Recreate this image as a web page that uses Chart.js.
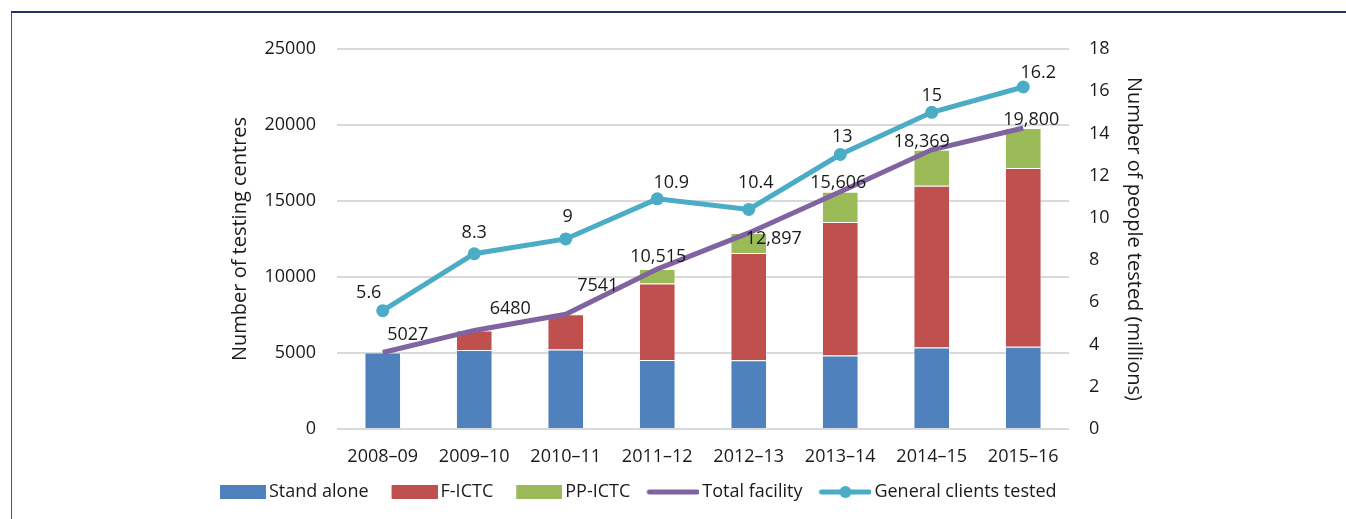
<!DOCTYPE html>
<html>
<head>
<meta charset="utf-8">
<script src="https://cdn.jsdelivr.net/npm/chart.js@4.4.1/dist/chart.umd.min.js"></script>
<style>
    html, body { margin: 0; padding: 0; background: #fff; }
    #wrap { position: relative; width: 1346px; height: 519px; overflow: hidden; }
    #frame { position: absolute; left: 11px; top: 11px; width: 1400px; height: 600px;
             border-left: 1px solid #3d5478; border-top: 2px solid #1f3461; }
    canvas { position: absolute; left: 0; top: 0; }
</style>
</head>
<body>
<div id="wrap">
    <div id="frame"></div>
    <canvas id="makeChart" width="1346" height="519"></canvas>
</div>
<script>
const years = ['2008–09', '2009–10', '2010–11', '2011–12', '2012–13', '2013–14', '2014–15', '2015–16'];
const standAlone = [5027, 5200, 5220, 4540, 4520, 4830, 5360, 5400];
const fIctc = [0, 1280, 2321, 5030, 7050, 8790, 10640, 11770];
const ppIctc = [0, 0, 0, 945, 1327, 1986, 2369, 2630];
const totalFacility = [5027, 6480, 7541, 10515, 12897, 15606, 18369, 19800];
const totalLabels = ['5027', '6480', '7541', '10,515', '12,897', '15,606', '18,369', '19,800'];
const clientsTested = [5.6, 8.3, 9, 10.9, 10.4, 13, 15, 16.2];

const BLUE = '#4f81bd', RED = '#c0504d', GREEN = '#9bbb59', PURPLE = '#8064a2', CYAN = '#4bacc6';
const TEXT = '#1a1a1a';

Chart.defaults.font.family = "'Open Sans', 'Noto Sans', sans-serif";
Chart.defaults.font.size = 18;
Chart.defaults.color = TEXT;

// legend swatches drawn as small canvases
const makeSwatch = (kind, color) => {
    const c = document.createElement('canvas');
    c.width = 58;
    c.height = 18;
    const g = c.getContext('2d');
    if (kind == 'rect') {
        g.fillStyle = color;
        g.fillRect(12, 2, 46, 14);
    } else {
        g.strokeStyle = color;
        g.lineWidth = 5;
        g.lineCap = 'round';
        g.beginPath();
        g.moveTo(8, 9);
        g.lineTo(56, 9);
        g.stroke();
        if (kind == 'dot') {
            g.fillStyle = color;
            g.beginPath();
            g.arc(32, 9, 6, 0, Math.PI * 2);
            g.fill();
        }
    }
    return c;
};

// label nudges (dx, dy) relative to each point, as placed in the original
const totalNudge = [[25, -18], [36, -22], [32, -28], [1, -12], [25, 6], [-2, -9], [-10, -8], [8, -8]];
const clientNudge = [[-14, -18], [0, -21], [2, -22], [14, -16], [7, -27], [2, -18], [0, -16], [15, -14]];

const dataLabels = {
    id: 'dataLabels',
    afterDatasetsDraw(chart) {
        const ctx = chart.ctx;
        ctx.save();
        ctx.font = "18px 'Open Sans', 'Noto Sans', sans-serif";
        ctx.fillStyle = TEXT;
        ctx.textAlign = 'center';
        ctx.textBaseline = 'middle';
        chart.getDatasetMeta(3).data.forEach((pt, i) => {
            ctx.fillText(totalLabels[i], pt.x + totalNudge[i][0], pt.y + totalNudge[i][1]);
        });
        chart.getDatasetMeta(4).data.forEach((pt, i) => {
            ctx.fillText(String(clientsTested[i]), pt.x + clientNudge[i][0], pt.y + clientNudge[i][1]);
        });
        ctx.restore();
    }
};

const barEdge = 'rgba(255,255,255,0.35)';

const data = {
    labels: years,
    datasets: [{
        label: 'Stand alone',
        data: standAlone,
        backgroundColor: BLUE,
        borderColor: barEdge,
        borderWidth: 1,
        stack: 'bars',
        order: 2,
        swatch: makeSwatch('rect', BLUE)
    }, {
        label: 'F-ICTC',
        data: fIctc,
        backgroundColor: RED,
        borderColor: barEdge,
        borderWidth: 1,
        stack: 'bars',
        order: 2,
        swatch: makeSwatch('rect', RED)
    }, {
        label: 'PP-ICTC',
        data: ppIctc,
        backgroundColor: GREEN,
        borderColor: barEdge,
        borderWidth: 1,
        stack: 'bars',
        order: 2,
        swatch: makeSwatch('rect', GREEN)
    }, {
        type: 'line',
        label: 'Total facility',
        data: totalFacility,
        borderColor: PURPLE,
        backgroundColor: PURPLE,
        borderWidth: 5,
        pointRadius: 0,
        stack: 'total',
        order: 1,
        swatch: makeSwatch('line', PURPLE)
    }, {
        type: 'line',
        label: 'General clients tested',
        data: clientsTested,
        yAxisID: 'y1',
        borderColor: CYAN,
        backgroundColor: CYAN,
        borderWidth: 5,
        pointRadius: 6.5,
        pointBorderWidth: 0,
        pointBackgroundColor: CYAN,
        order: 0,
        swatch: makeSwatch('dot', CYAN)
    }]
};

const config = {
    type: 'bar',
    data: data,
    options: {
        responsive: false,
        animation: false,
        devicePixelRatio: 1,
        barPercentage: 0.4,
        categoryPercentage: 1,
        layout: { padding: { left: 197, right: 187, top: 49, bottom: 8 } },
        plugins: {
            tooltip: { enabled: false },
            legend: {
                position: 'bottom',
                align: 'start',
                labels: {
                    usePointStyle: true,
                    pointStyleWidth: 46,
                    padding: 17,
                    color: TEXT,
                    font: { size: 18 },
                    sort: (a, b) => a.datasetIndex - b.datasetIndex,
                    generateLabels: (chart) => chart.data.datasets.map((ds, i) => ({
                        text: ds.label,
                        pointStyle: ds.swatch,
                        fillStyle: ds.backgroundColor,
                        strokeStyle: ds.backgroundColor,
                        lineWidth: 0,
                        hidden: false,
                        datasetIndex: i,
                        fontColor: TEXT
                    }))
                }
            }
        },
        scales: {
            x: {
                stacked: true,
                grid: { display: false },
                border: { display: false },
                ticks: { padding: 8.8, maxRotation: 0 },
                afterFit: (s) => { s.height = 37.1; }
            },
            y: {
                stacked: true,
                min: 0,
                max: 25000,
                grid: { color: '#d9d9d9', lineWidth: 2, drawTicks: false },
                border: { display: false },
                ticks: { stepSize: 5000, padding: 21, callback: (v) => String(v) },
                title: { display: true, text: 'Number of testing centres', font: { size: 20 }, padding: { top: 31, bottom: 0 } },
                afterFit: (s) => { s.width = 140; }
            },
            y1: {
                position: 'right',
                min: 0,
                max: 18,
                grid: { drawOnChartArea: false, drawTicks: false },
                border: { display: false },
                ticks: { stepSize: 2, padding: 20 },
                title: { display: true, text: 'Number of people tested (millions)', font: { size: 20 }, padding: { top: 13, bottom: 0 } },
                afterFit: (s) => { s.width = 90; }
            }
        }
    },
    plugins: [dataLabels]
};

const myChart = new Chart(document.getElementById('makeChart'), config);
</script>
</body>
</html>
